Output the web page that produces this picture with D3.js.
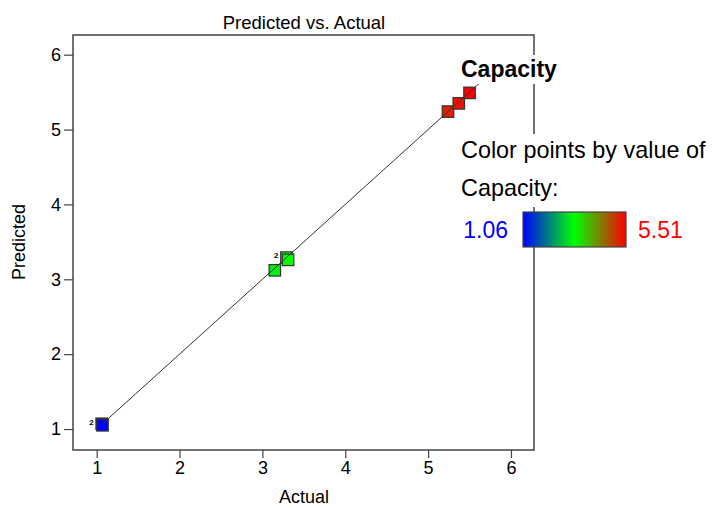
<!DOCTYPE html>
<html><head><meta charset="utf-8">
<script src="https://cdn.jsdelivr.net/npm/d3@7"></script>
<style>body{margin:0;background:#fff}svg{display:block;font-family:"Liberation Sans",Arial,sans-serif}</style>
</head><body><svg id="c" width="716" height="508"></svg>
<script>
const actual    = [1.06, 1.07, 3.15, 3.29, 3.31, 5.24, 5.37, 5.50];
const predicted = [1.07, 1.05, 3.12, 3.29, 3.26, 5.24, 5.35, 5.49];
const replicateLabels = [{x:1.06,y:1.06,t:"2"},{x:3.29,y:3.28,t:"2"}];
const xTicks = [1,2,3,4,5,6];
const yTicks = [1,2,3,4,5,6];
const cMin = 1.06, cMax = 5.51;
const fitLine = [1.06, 5.64];

const svg = d3.select("#c");
const L=73, R=534, T=35, B=450;
const x = d3.scaleLinear().domain([0.714, 6.278]).range([L, R]);
const y = d3.scaleLinear().domain([0.72, 6.263]).range([B, T]);
const col = d3.scaleLinear().domain([cMin, (cMin+cMax)/2, cMax]).range(["#0000ff","#00ff00","#ff0000"]).interpolate(d3.interpolateRgb);

svg.append("text").attr("x",304).attr("y",29).attr("text-anchor","middle").attr("font-size",18.5).text("Predicted vs. Actual");

svg.append("rect").attr("x",L).attr("y",T).attr("width",R-L).attr("height",B-T).attr("fill","none").attr("stroke","#444").attr("stroke-width",1.5);

const gx = svg.append("g").attr("transform",`translate(0,${B})`).call(d3.axisBottom(x).tickValues(xTicks).tickSize(8).tickPadding(3).tickFormat(d3.format("d")));
const gy = svg.append("g").attr("transform",`translate(${L},0)`).call(d3.axisLeft(y).tickValues(yTicks).tickSize(9).tickPadding(3).tickFormat(d3.format("d")));
[gx,gy].forEach(g=>{g.select(".domain").remove();g.selectAll("line").attr("stroke","#444").attr("stroke-width",1.2);g.selectAll("text").attr("font-size",18).attr("fill","#000").attr("font-family","Liberation Sans, Arial, sans-serif");});

svg.append("text").attr("x",304).attr("y",503).attr("text-anchor","middle").attr("font-size",18).text("Actual");
svg.append("text").attr("transform","translate(25,242) rotate(-90)").attr("text-anchor","middle").attr("font-size",18).text("Predicted");

const pts = actual.map((a,i)=>({a, p:predicted[i]}));
const s = 11.5;
svg.append("g").selectAll("rect").data(pts).join("rect")
  .attr("x",d=>x(d.a)-s/2).attr("y",d=>y(d.p)-s/2).attr("width",s).attr("height",s)
  .attr("fill",d=>col(d.a)).attr("stroke","#333").attr("stroke-width",1.2);

svg.append("line").attr("x1",x(fitLine[0])).attr("y1",y(fitLine[0])).attr("x2",x(fitLine[1])).attr("y2",y(fitLine[1]))
  .attr("stroke","#333").attr("stroke-width",1);

svg.append("g").selectAll("text").data(replicateLabels).join("text")
  .attr("x",d=>x(d.x)-8).attr("y",d=>y(d.y)).attr("text-anchor","end").attr("font-size",8).attr("font-weight","bold").text(d=>d.t);

// legend
svg.append("rect").attr("x",458).attr("y",55).attr("width",110).attr("height",29).attr("fill","#fff");
svg.append("text").attr("x",461).attr("y",77).attr("font-size",23).attr("font-weight","bold").text("Capacity");
svg.append("rect").attr("x",458).attr("y",134).attr("width",258).attr("height",73).attr("fill","#fff");
svg.append("text").attr("x",461).attr("y",158).attr("font-size",23.4).text("Color points by value of");
svg.append("text").attr("x",461).attr("y",196).attr("font-size",23.4).text("Capacity:");

const defs = svg.append("defs");
const grad = defs.append("linearGradient").attr("id","g1");
[0,0.5,1].forEach(t=>grad.append("stop").attr("offset",t).attr("stop-color",col(cMin+t*(cMax-cMin))));
svg.append("rect").attr("x",523).attr("y",212).attr("width",103).attr("height",35).attr("fill","url(#g1)").attr("stroke","#444").attr("stroke-width",1.2);
svg.append("text").attr("x",508).attr("y",238).attr("text-anchor","end").attr("font-size",23).attr("fill","#0000ff").text(d3.format(".2f")(cMin));
svg.append("text").attr("x",638).attr("y",238).attr("font-size",23).attr("fill","#ff0000").text(d3.format(".2f")(cMax));
</script></body></html>
